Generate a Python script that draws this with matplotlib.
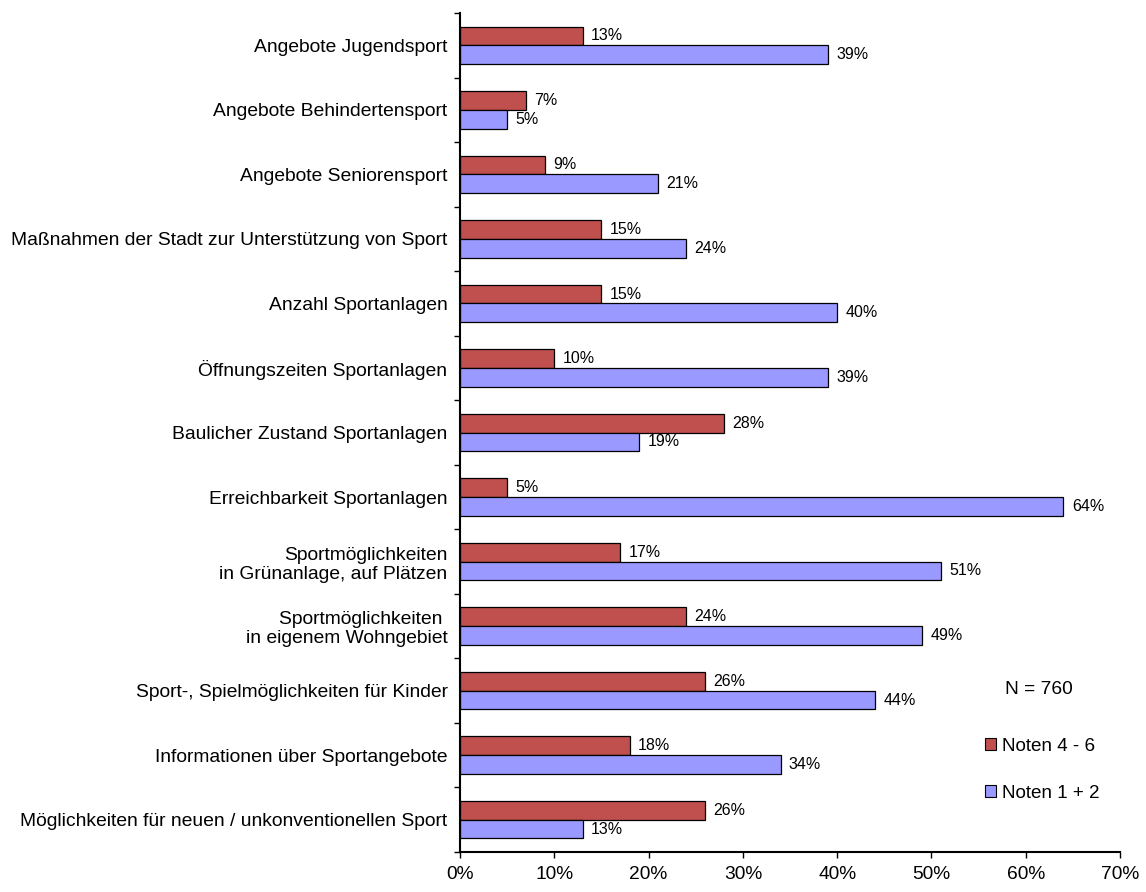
import numpy as np
import matplotlib
matplotlib.use("Agg")
import matplotlib.pyplot as plt
from matplotlib.patches import Patch

# Bewertung Sportangebote - Noten 4-6 vs. Noten 1+2

categories = [
    'Angebote Jugendsport',
    'Angebote Behindertensport',
    'Angebote Seniorensport',
    'Maßnahmen der Stadt zur Unterstützung von Sport',
    'Anzahl Sportanlagen',
    'Öffnungszeiten Sportanlagen',
    'Baulicher Zustand Sportanlagen',
    'Erreichbarkeit Sportanlagen',
    'Sportmöglichkeiten\nin Grünanlage, auf Plätzen',
    'Sportmöglichkeiten \nin eigenem Wohngebiet',
    'Sport-, Spielmöglichkeiten für Kinder',
    'Informationen über Sportangebote',
    'Möglichkeiten für neuen / unkonventionellen Sport',
]
noten_4_6 = [13, 7, 9, 15, 15, 10, 28, 5, 17, 24, 26, 18, 26]
noten_1_2 = [39, 5, 21, 24, 40, 39, 19, 64, 51, 49, 44, 34, 13]
xticks = [0, 10, 20, 30, 40, 50, 60, 70]

plt.rcParams['font.family'] = ['Liberation Sans Narrow', 'Liberation Sans', 'DejaVu Sans']

red = '#C0504D'
blue = '#9999FF'

fig = plt.figure(figsize=(11.46, 8.92), dpi=100)
ax = fig.add_axes([460 / 1146, 1 - 852 / 892, 660 / 1146, 839 / 892])

y = np.arange(len(categories))
h = 0.29
ax.barh(y - h / 2, noten_4_6, height=h, color=red, edgecolor='black', linewidth=0.9)
ax.barh(y + h / 2, noten_1_2, height=h, color=blue, edgecolor='black', linewidth=0.9)

for i in range(len(categories)):
    ax.annotate(f'{noten_4_6[i]}%', (noten_4_6[i], y[i] - h / 2), xytext=(6, 0),
                textcoords='offset points', va='center', ha='left', fontsize=11.5)
    ax.annotate(f'{noten_1_2[i]}%', (noten_1_2[i], y[i] + h / 2), xytext=(6, 0),
                textcoords='offset points', va='center', ha='left', fontsize=11.5)

ax.set_xlim(0, 70)
ax.set_ylim(len(categories) - 0.5, -0.5)
ax.set_xticks(xticks)
ax.set_xticklabels([f'{v}%' for v in xticks], fontsize=13.8)
ax.set_yticks(y)
ax.set_yticklabels(categories, fontsize=13.9, linespacing=1.15)
ax.set_yticks(np.arange(-0.5, len(categories), 1), minor=True)
ax.tick_params(axis='y', which='major', length=0, pad=9)
ax.tick_params(axis='y', which='minor', length=4, direction='out', width=1)
ax.tick_params(axis='x', length=4, direction='out', width=1, pad=6)

for s in ['top', 'right']:
    ax.spines[s].set_visible(False)
ax.spines['left'].set_linewidth(1.5)
ax.spines['bottom'].set_linewidth(1.5)

handles = [Patch(facecolor=red, edgecolor='black', linewidth=0.8, label='Noten 4 - 6'),
           Patch(facecolor=blue, edgecolor='black', linewidth=0.8, label='Noten 1 + 2')]
fig.legend(handles=handles, loc='center left', bbox_to_anchor=(985 / 1146, 1 - 770 / 892),
           frameon=False, fontsize=13.6, handlelength=0.6, handleheight=0.6,
           handletextpad=0.3, labelspacing=1.6, borderpad=0, borderaxespad=0)
fig.text(1039 / 1146, 1 - 689 / 892, 'N = 760', ha='center', va='center', fontsize=13.8)

plt.savefig('out.png', dpi=100)
